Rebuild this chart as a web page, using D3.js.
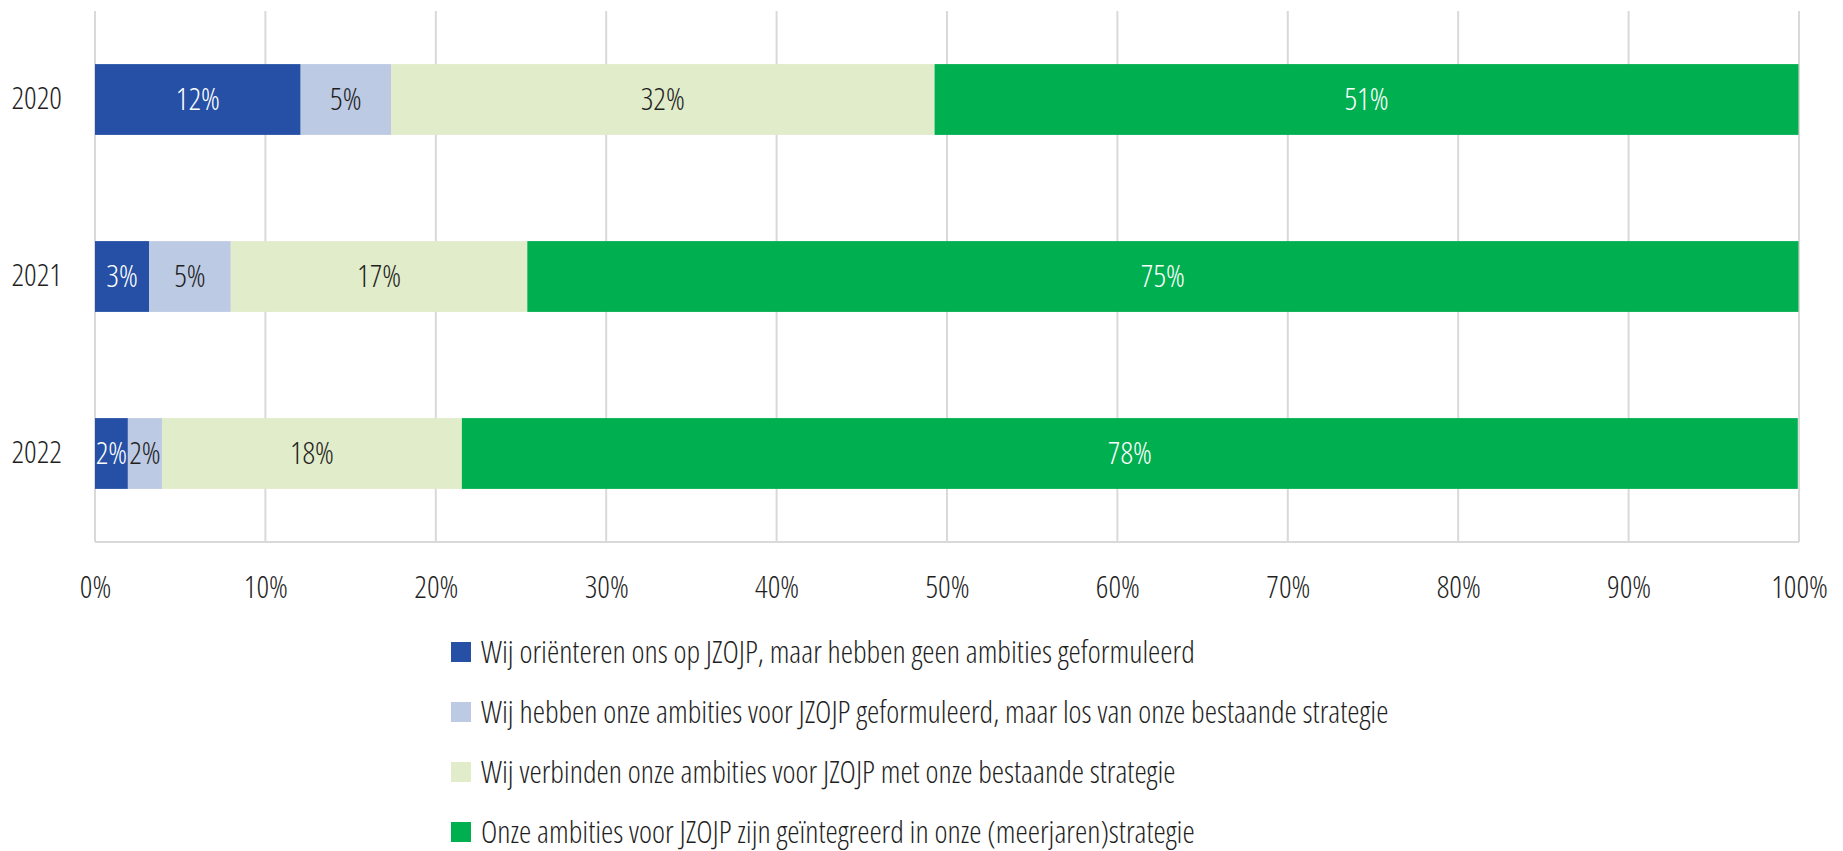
<!DOCTYPE html>
<html>
<head>
<meta charset="utf-8">
<script src="https://cdn.jsdelivr.net/npm/d3@7"></script>
<style>
  body { margin: 0; background: #fff; }
  svg text { font-family: "Open Sans", sans-serif; font-stretch: 75%; font-weight: 300; }
  .grid line { stroke: #d9d9d9; stroke-width: 2; }
  .xaxis text { fill: #1f1f1f; font-size: 31px; }
  .yaxis text { fill: #1f1f1f; font-size: 31px; }
  .label { font-size: 31px; }
  .legend text { fill: #1f1f1f; font-size: 31px; }
</style>
</head>
<body>
<script>
//data
var years = ["2020", "2021", "2022"];
var categories = [
  "Wij oriënteren ons op JZOJP, maar hebben geen ambities geformuleerd",
  "Wij hebben onze ambities voor JZOJP geformuleerd, maar los van onze bestaande strategie",
  "Wij verbinden onze ambities voor JZOJP met onze bestaande strategie",
  "Onze ambities voor JZOJP zijn geïntegreerd in onze (meerjaren)strategie"
];
var orienteren = [0.1207, 0.0317, 0.0193];
var losVan = [0.053, 0.048, 0.020];
var verbinden = [0.319, 0.174, 0.176];
var geintegreerd = [0.507, 0.746, 0.784];
var ticks = [0, 0.1, 0.2, 0.3, 0.4, 0.5, 0.6, 0.7, 0.8, 0.9, 1];

var colors = ["#2550a5", "#bdcae3", "#e1ecca", "#00af50"];
var textColors = ["#ffffff", "#1f1f1f", "#1f1f1f", "#ffffff"];

window.onload = drawChart();

function drawChart(){
  var width = 1843,
      height = 851;

  var margin = {top: 11, left: 95, right: 44, bottom: 309};

  var svg = d3.select("body")
    .append("svg")
    .attr("width", width)
    .attr("height", height);

  var x = d3.scaleLinear()
    .domain([0, 1])
    .range([margin.left, width - margin.right]);

  var y = d3.scaleBand()
    .domain(years)
    .range([margin.top, height - margin.bottom])
    .paddingInner(0.6)
    .paddingOuter(0.3);

  //build rows for the stack
  var rows = years.map(function(yr, i){
    return {year: yr, c0: orienteren[i], c1: losVan[i], c2: verbinden[i], c3: geintegreerd[i]};
  });
  var stack = d3.stack().keys(["c0", "c1", "c2", "c3"]);
  var series = stack(rows);

  //gridlines
  svg.append("g")
    .attr("class", "grid")
    .selectAll("line")
    .data(ticks)
    .enter()
    .append("line")
    .attr("x1", function(d){ return x(d); })
    .attr("x2", function(d){ return x(d); })
    .attr("y1", margin.top)
    .attr("y2", height - margin.bottom);

  //axis baseline
  svg.append("line")
    .attr("x1", x(0))
    .attr("x2", x(1))
    .attr("y1", height - margin.bottom)
    .attr("y2", height - margin.bottom)
    .attr("stroke", "#d9d9d9")
    .attr("stroke-width", 2);

  //bars
  var layers = svg.selectAll(".layer")
    .data(series)
    .enter()
    .append("g")
    .attr("class", "layer")
    .attr("fill", function(d, i){ return colors[i]; });

  layers.selectAll("rect")
    .data(function(d){ return d; })
    .enter()
    .append("rect")
    .attr("x", function(d){ return x(d[0]); })
    .attr("y", function(d){ return y(d.data.year); })
    .attr("width", function(d){ return x(d[1]) - x(d[0]); })
    .attr("height", y.bandwidth());

  //data labels
  var fmt = d3.format(".0%");
  series.forEach(function(s, i){
    svg.append("g")
      .selectAll("text")
      .data(s)
      .enter()
      .append("text")
      .attr("class", "label")
      .attr("x", function(d){ return (x(d[0]) + x(d[1])) / 2; })
      .attr("y", function(d){ return y(d.data.year) + y.bandwidth() / 2; })
      .attr("dy", "0.35em")
      .attr("text-anchor", "middle")
      .attr("fill", textColors[i])
      .text(function(d){ return fmt(d[1] - d[0]); });
  });

  //x axis labels
  var xAxis = d3.axisBottom(x)
    .tickValues(ticks)
    .tickFormat(d3.format(".0%"))
    .tickSize(0)
    .tickPadding(34);

  svg.append("g")
    .attr("class", "xaxis")
    .attr("transform", "translate(0," + (height - margin.bottom) + ")")
    .call(xAxis)
    .call(function(g){ g.select(".domain").remove(); });

  //y axis labels
  var yAxis = d3.axisLeft(y)
    .tickSize(0)
    .tickPadding(33);

  svg.append("g")
    .attr("class", "yaxis")
    .attr("transform", "translate(" + margin.left + ",0)")
    .call(yAxis)
    .call(function(g){ g.select(".domain").remove(); });

  //legend
  var legend = svg.append("g")
    .attr("class", "legend")
    .selectAll("g")
    .data(categories)
    .enter()
    .append("g")
    .attr("transform", function(d, i){ return "translate(451," + (652 + i * 60) + ")"; });

  legend.append("rect")
    .attr("x", 0)
    .attr("y", -10)
    .attr("width", 20)
    .attr("height", 20)
    .attr("fill", function(d, i){ return colors[i]; });

  legend.append("text")
    .attr("x", 30)
    .attr("dy", "0.35em")
    .text(function(d){ return d; });
};
</script>
</body>
</html>
